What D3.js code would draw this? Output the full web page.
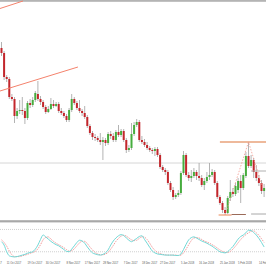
<!DOCTYPE html>
<html><head><meta charset="utf-8">
<script src="https://cdnjs.cloudflare.com/ajax/libs/d3/7.8.5/d3.min.js"></script>
<style>html,body{margin:0;padding:0;background:#fff}svg{display:block}</style>
</head><body><div id="chart"></div>
<script>
// Daily candles + stochastic panel (Oct 2017 - Feb 2018)
const opens=[1.3404,1.3394,1.3346,1.3342,1.3306,1.3302,1.3268,1.3278,1.3280,1.3278,1.3264,1.3294,1.3290,1.3300,1.3312,1.3302,1.3296,1.3286,1.3276,1.3282,1.3292,1.3288,1.3292,1.3278,1.3274,1.3268,1.3260,1.3280,1.3302,1.3294,1.3284,1.3278,1.3274,1.3266,1.3248,1.3234,1.3226,1.3224,1.3220,1.3216,1.3220,1.3214,1.3232,1.3228,1.3220,1.3236,1.3230,1.3238,1.3220,1.3200,1.3204,1.3232,1.3250,1.3256,1.3220,1.3216,1.3210,1.3204,1.3200,1.3198,1.3202,1.3190,1.3166,1.3160,1.3156,1.3134,1.3120,1.3106,1.3110,1.3114,1.3154,1.3190,1.3150,1.3144,1.3148,1.3156,1.3148,1.3144,1.3130,1.3138,1.3146,1.3150,1.3156,1.3134,1.3106,1.3094,1.3080,1.3074,1.3104,1.3116,1.3112,1.3120,1.3138,1.3124,1.3148,1.3188,1.3168,1.3180,1.3156,1.3144,1.3134,1.3118];
const highs=[1.3416,1.3398,1.3350,1.3346,1.3312,1.3306,1.3284,1.3300,1.3306,1.3284,1.3298,1.3302,1.3306,1.3318,1.3338,1.3308,1.3300,1.3290,1.3288,1.3304,1.3300,1.3296,1.3296,1.3284,1.3278,1.3272,1.3284,1.3312,1.3306,1.3298,1.3300,1.3282,1.3288,1.3270,1.3252,1.3238,1.3232,1.3228,1.3234,1.3226,1.3224,1.3236,1.3238,1.3234,1.3240,1.3250,1.3242,1.3242,1.3224,1.3210,1.3254,1.3256,1.3262,1.3260,1.3228,1.3222,1.3216,1.3208,1.3204,1.3206,1.3206,1.3194,1.3170,1.3164,1.3160,1.3138,1.3126,1.3114,1.3120,1.3158,1.3198,1.3194,1.3156,1.3160,1.3164,1.3160,1.3174,1.3150,1.3144,1.3156,1.3174,1.3162,1.3160,1.3138,1.3110,1.3098,1.3086,1.3108,1.3140,1.3124,1.3134,1.3144,1.3150,1.3154,1.3196,1.3216,1.3190,1.3184,1.3170,1.3150,1.3140,1.3132];
const lows=[1.3388,1.3340,1.3336,1.3302,1.3298,1.3254,1.3262,1.3272,1.3270,1.3252,1.3260,1.3284,1.3286,1.3296,1.3298,1.3290,1.3282,1.3272,1.3274,1.3280,1.3284,1.3286,1.3274,1.3270,1.3264,1.3256,1.3256,1.3276,1.3290,1.3280,1.3274,1.3268,1.3262,1.3244,1.3230,1.3220,1.3218,1.3216,1.3210,1.3180,1.3208,1.3210,1.3222,1.3216,1.3216,1.3226,1.3226,1.3216,1.3194,1.3196,1.3200,1.3228,1.3246,1.3216,1.3212,1.3206,1.3200,1.3196,1.3192,1.3188,1.3186,1.3162,1.3156,1.3150,1.3130,1.3116,1.3100,1.3102,1.3106,1.3110,1.3150,1.3146,1.3138,1.3136,1.3144,1.3140,1.3138,1.3126,1.3120,1.3134,1.3140,1.3146,1.3130,1.3102,1.3090,1.3074,1.3070,1.3072,1.3098,1.3106,1.3108,1.3114,1.3094,1.3120,1.3144,1.3164,1.3164,1.3144,1.3138,1.3128,1.3112,1.3106];
const closes=[1.3394,1.3346,1.3342,1.3306,1.3302,1.3268,1.3278,1.3280,1.3278,1.3264,1.3294,1.3290,1.3300,1.3314,1.3302,1.3296,1.3286,1.3276,1.3282,1.3292,1.3288,1.3292,1.3278,1.3274,1.3268,1.3260,1.3280,1.3302,1.3294,1.3284,1.3278,1.3274,1.3266,1.3248,1.3234,1.3226,1.3224,1.3220,1.3216,1.3220,1.3214,1.3232,1.3228,1.3220,1.3236,1.3230,1.3238,1.3220,1.3200,1.3204,1.3232,1.3250,1.3256,1.3220,1.3216,1.3210,1.3204,1.3200,1.3198,1.3202,1.3190,1.3166,1.3160,1.3156,1.3134,1.3120,1.3106,1.3110,1.3114,1.3154,1.3190,1.3150,1.3144,1.3148,1.3156,1.3148,1.3144,1.3130,1.3138,1.3146,1.3150,1.3156,1.3134,1.3106,1.3094,1.3080,1.3074,1.3104,1.3116,1.3112,1.3128,1.3138,1.3124,1.3150,1.3188,1.3168,1.3180,1.3156,1.3144,1.3134,1.3118,1.3124];

// stochastic %K and %D
const stochK=[47,38,20,9,7,6,7,9,11,13,16,18,20,27,38,53,65,60,54,48,43,39,36,31,26,21,20,27,36,45,51,49,43,33,24,17,14,12,11,13,17,25,38,49,57,63,66,64,57,51,47,51,56,61,63,53,43,32,22,17,14,13,12,11,11,11,11,10,10,14,26,40,52,58,60,57,53,49,46,43,39,35,30,25,20,18,17,20,27,34,44,54,61,65,71,78,77,72,65,56,45,33];
const stochD=[52,45,35,22,12,7,7,7,9,11,13,16,18,21,28,39,52,59,60,54,48,43,39,35,31,26,22,23,28,36,44,48,48,42,33,25,18,14,12,12,14,18,27,37,48,56,62,64,62,57,52,50,51,56,60,59,53,43,32,24,18,15,13,12,11,11,11,11,10,11,17,27,39,50,57,58,57,53,49,46,43,39,35,30,25,21,18,18,21,27,35,44,53,60,66,71,75,76,71,64,55,45];
const stochLevels=[20,80];

// date labels: candle index + text
const tickIdx=[-5,2,10,17,25,32,39,47,54,61,69,76,84,91,99];
const tickText=["2 Oct 2017","11 Oct 2017","19 Oct 2017","30 Oct 2017","8 Nov 2017","17 Nov 2017","28 Nov 2017","7 Dec 2017","18 Dec 2017","27 Dec 2017","5 Jan 2018","16 Jan 2018","25 Jan 2018","5 Feb 2018","14 Feb 2018"];

// drawn objects: [idx, price] pairs
const trendA=[[-0.58,1.3483],[8.27,1.3498]];
const trendB=[[-0.58,1.3318],[29.4,1.3366]];
const topLine=[[84,1.3216],[102,1.3216]];
const botLineA=[[83.5,1.3070],[88.5,1.3070]];
const botLineB=[[88.5,1.3071],[94,1.3071]];
const botLineC=[[96,1.3072],[102,1.3072]];
const midLine=[[96,1.3158],[102,1.3158]];
const hLine=[[-1,1.3174],[102,1.3174]];
const zigzag=[[86,1.3070],[95,1.3216],[100.5,1.3124]];

const W=266,H=266;
const svg=d3.select("#chart").append("svg").attr("width",W).attr("height",H);
const N=closes.length;
const x=d3.scaleLinear().domain([0,N-1]).range([1.5,1.5+2.6*(N-1)]);
const y=d3.scaleLinear().domain([1.3500,1.3058]).range([0,221]);
const yo=d3.scaleLinear().domain([0,100]).range([259.2,222]);

// frame bars
svg.append("rect").attr("x",0).attr("y",0).attr("width",W).attr("height",1.8).attr("fill","#b4b4b4");
svg.append("rect").attr("x",0).attr("y",220.2).attr("width",W).attr("height",2.2).attr("fill","#a8a8a8");

const line=d3.line().x(d=>x(d[0])).y(d=>y(d[1]));
svg.append("path").attr("d",line(hLine)).attr("stroke","#d6d6d6").attr("stroke-width",1).attr("fill","none");

// candles
const data=d3.range(N).map(i=>({i,o:opens[i],h:highs[i],l:lows[i],c:closes[i]}));
const cg=svg.append("g");
cg.selectAll("line").data(data).enter().append("line")
  .attr("x1",d=>x(d.i)).attr("x2",d=>x(d.i))
  .attr("y1",d=>y(d.h)).attr("y2",d=>y(d.l))
  .attr("stroke","#a0a0a0").attr("stroke-width",0.8);
cg.selectAll("rect").data(data).enter().append("rect")
  .attr("x",d=>x(d.i)-1).attr("width",2)
  .attr("y",d=>y(Math.max(d.o,d.c)))
  .attr("height",d=>Math.max(0.8,Math.abs(y(d.o)-y(d.c))))
  .attr("fill",d=>d.c>=d.o?"#46ad3e":"#c3262c");

// drawings
const salmon="#f4826c";
[trendA,trendB].forEach(t=>svg.append("path").attr("d",line(t)).attr("stroke",salmon).attr("stroke-width",1).attr("fill","none"));
svg.append("path").attr("d",line(topLine)).attr("stroke","#e9a27a").attr("stroke-width",1.6).attr("fill","none");
svg.append("path").attr("d",line(botLineA)).attr("stroke","#f0a27c").attr("stroke-width",1.3).attr("fill","none");
svg.append("path").attr("d",line(botLineB)).attr("stroke","#9a6a58").attr("stroke-width",1).attr("fill","none");
svg.append("path").attr("d",line(botLineC)).attr("stroke","#a8a8a8").attr("stroke-width",1).attr("fill","none");
svg.append("path").attr("d",line(midLine)).attr("stroke","#b0b0b0").attr("stroke-width",1).attr("fill","none");
svg.append("path").attr("d",line(zigzag)).attr("stroke","#f49a90").attr("stroke-width",0.8).attr("stroke-dasharray","1.5,1.5").attr("fill","none");

// stochastic panel
svg.selectAll(".lvl").data(stochLevels).enter().append("line").attr("class","lvl")
  .attr("x1",0).attr("x2",W).attr("y1",d=>yo(d)).attr("y2",d=>yo(d))
  .attr("stroke","#c4c4c4").attr("stroke-width",0.8).attr("stroke-dasharray","1,1");
const oline=d3.line().x((d,i)=>x(i)).y(d=>yo(d)).curve(d3.curveMonotoneX);
svg.append("path").attr("d",oline(stochD)).attr("stroke","#f39c9c").attr("stroke-width",1).attr("stroke-dasharray","1.5,1").attr("fill","none");
svg.append("path").attr("d",oline(stochK)).attr("stroke","#72d8d6").attr("stroke-width",1).attr("fill","none");

// date axis
svg.selectAll(".tk").data(tickIdx).enter().append("text").attr("class","tk")
  .attr("x",d=>x(d)).attr("y",263.5)
  .attr("font-family","Liberation Sans, Arial, sans-serif").attr("font-size","2.7px").attr("fill","#555")
  .text((d,i)=>tickText[i]);
</script></body></html>
